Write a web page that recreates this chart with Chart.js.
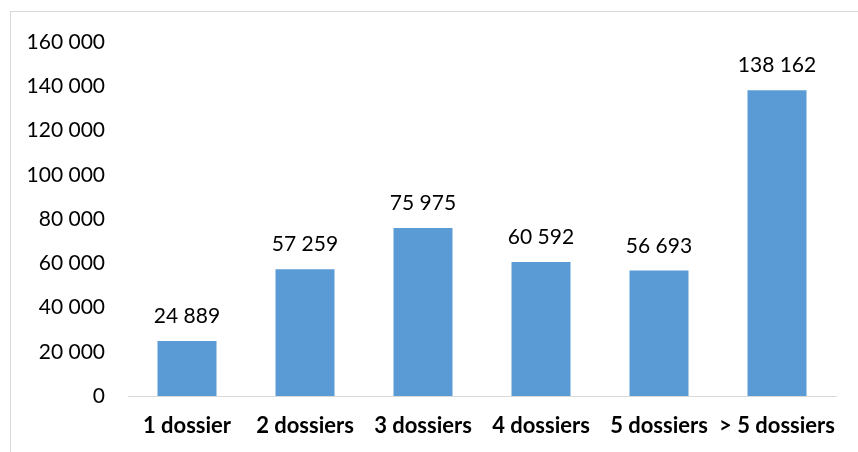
<!DOCTYPE html>
<html><head><meta charset="utf-8">
<script src="https://cdn.jsdelivr.net/npm/chart.js@4"></script>
<style>
html,body{margin:0;padding:0;background:#fff;overflow:hidden;}
#wrap{position:absolute;left:0;top:0;width:858px;height:452px;}
#frame{position:absolute;left:10px;top:11px;width:900px;height:500px;border-left:1px solid #d9d9d9;border-top:1px solid #d9d9d9;}
canvas{position:absolute;left:0;top:0;}
</style></head>
<body>
<div id="wrap"><div id="frame"></div><canvas id="c" width="858" height="452"></canvas></div>
<script>
const categories = ["1 dossier","2 dossiers","3 dossiers","4 dossiers","5 dossiers","> 5 dossiers"];
const values = [24889, 57259, 75975, 60592, 56693, 138162];
const yTicks = [0,20000,40000,60000,80000,100000,120000,140000,160000];

function fmt(v){ return String(v).replace(/\B(?=(\d{3})+(?!\d))/g,' '); }

const labelPlugin = {
  id:'labels',
  afterDatasetsDraw(chart){
    const ctx = chart.ctx;
    const meta = chart.getDatasetMeta(0);
    ctx.save();
    ctx.font = '21px Lato';
    ctx.fillStyle = '#000';
    ctx.textAlign = 'center';
    ctx.textBaseline = 'alphabetic';
    meta.data.forEach((bar,i)=>{
      ctx.fillText(fmt(values[i]), bar.x, bar.y - 18);
    });
    ctx.restore();
  }
};

new Chart(document.getElementById('c'),{
  type:'bar',
  data:{labels:categories,datasets:[{data:values,backgroundColor:'#5b9bd5',categoryPercentage:1,barPercentage:0.5}]},
  options:{
    responsive:false,animation:false,
    layout:{padding:{top:42,right:22,left:0,bottom:0}},
    plugins:{legend:{display:false},tooltip:{enabled:false}},
    scales:{
      x:{
        grid:{display:false,drawTicks:false},
        border:{display:true,color:'#d9d9d9',width:1},
        ticks:{color:'#000',font:{family:'Lato',size:22,weight:'bold'},padding:17,maxRotation:0,autoSkip:false},
        afterFit(s){ s.height = 56; }
      },
      y:{
        min:0,max:160000,
        grid:{display:false,drawTicks:false},
        border:{display:false},
        afterBuildTicks(s){ s.ticks = yTicks.map(v=>({value:v})); },
        ticks:{color:'#000',font:{family:'Lato',size:21},padding:23,callback:v=>fmt(v)},
        afterFit(s){ s.width = 128; }
      }
    }
  },
  plugins:[labelPlugin]
});
</script>
</body></html>
